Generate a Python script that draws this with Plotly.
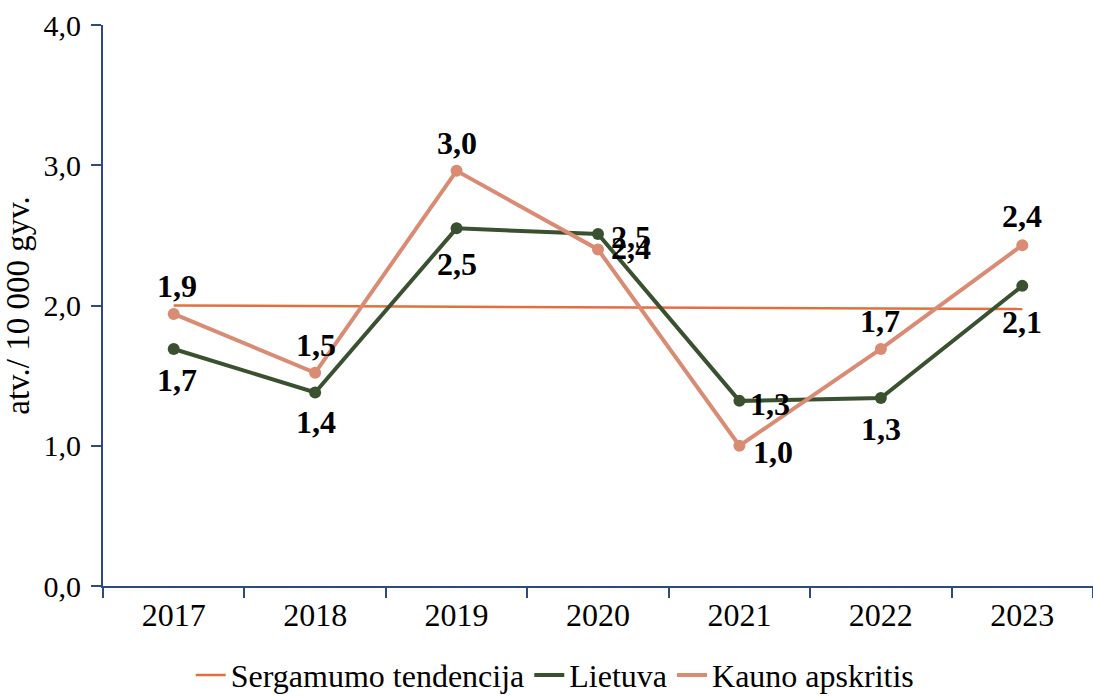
import plotly.graph_objects as go

years = ["2017", "2018", "2019", "2020", "2021", "2022", "2023"]
lietuva = [1.69, 1.38, 2.55, 2.51, 1.32, 1.34, 2.14]
kauno = [1.94, 1.52, 2.96, 2.40, 1.00, 1.69, 2.43]
trend = [2.00, 1.996, 1.992, 1.988, 1.983, 1.979, 1.975]
y_ticks = [0, 1, 2, 3, 4]
y_tick_labels = ["0,0", "1,0", "2,0", "3,0", "4,0"]

def fmt(v):
    return f"{v:.1f}".replace(".", ",")

# label placement (style): (xanchor, xshift, yshift) per point
lt_place = [("center", 3, -31), ("center", 1, -30), ("center", 0, -36), ("left", 11, -3),
            ("left", 9, -3), ("center", 0, -31), ("center", 0, -36)]
ka_place = [("center", 3, 28), ("center", 1, 28), ("center", 0, 28), ("left", 11, 1),
            ("left", 12, -6), ("center", -1, 28), ("center", 0, 29)]

FONT = "Liberation Serif"
AX = "#2E4A7E"
C_TR = "#E2703F"
C_LT = "#3A5130"
C_KA = "#D98B74"

fig = go.Figure()
fig.add_trace(go.Scatter(x=years, y=trend, mode="lines", showlegend=False,
                         line=dict(color=C_TR, width=2.5), hoverinfo="skip"))
fig.add_trace(go.Scatter(x=years, y=lietuva, mode="lines+markers", showlegend=False,
                         line=dict(color=C_LT, width=4), marker=dict(size=12, color=C_LT),
                         cliponaxis=False))
fig.add_trace(go.Scatter(x=years, y=kauno, mode="lines+markers", showlegend=False,
                         line=dict(color=C_KA, width=4), marker=dict(size=12, color=C_KA),
                         cliponaxis=False))
# legend entries (lines only)
fig.add_trace(go.Scatter(x=[None], y=[None], mode="lines", name="Sergamumo tendencija",
                         line=dict(color=C_TR, width=2.5)))
fig.add_trace(go.Scatter(x=[None], y=[None], mode="lines", name="Lietuva",
                         line=dict(color=C_LT, width=4)))
fig.add_trace(go.Scatter(x=[None], y=[None], mode="lines", name="Kauno apskritis",
                         line=dict(color=C_KA, width=4)))

annotations = []
for vals, place in ((lietuva, lt_place), (kauno, ka_place)):
    for i, (v, (xa, dx, dy)) in enumerate(zip(vals, place)):
        annotations.append(dict(x=i, y=v, xref="x", yref="y", text="<b>" + fmt(v) + "</b>",
                                showarrow=False,
                                xanchor=xa, yanchor="middle", xshift=dx, yshift=dy,
                                font=dict(family=FONT, size=32, color="black")))

fig.update_layout(
    width=1093, height=696,
    margin=dict(l=103, r=0, t=25, b=110),
    paper_bgcolor="white", plot_bgcolor="white",
    font=dict(family=FONT, size=30, color="black"),
    showlegend=True,
    annotations=annotations,
    legend=dict(orientation="h", xref="container", yref="container",
                x=0.508, xanchor="center", y=0.03, yanchor="middle",
                font=dict(family=FONT, size=32, color="black"),
                itemwidth=30, tracegroupgap=0),
    xaxis=dict(type="category", range=[-0.5, 6.5], showline=True, linecolor=AX, linewidth=2,
               ticks="outside", tickson="boundaries", ticklen=10, tickcolor=AX, tickwidth=1.5,
               showgrid=False, zeroline=False, automargin=False,
               tickfont=dict(family=FONT, size=32, color="black")),
    yaxis=dict(range=[0, 4], tickvals=y_ticks, ticktext=y_tick_labels,
               showline=True, linecolor=AX, linewidth=2,
               ticks="outside", ticklen=10, tickcolor=AX, tickwidth=1.5,
               showgrid=False, zeroline=False, automargin=False, ticklabelstandoff=4,
               tickfont=dict(family=FONT, size=30, color="black"),
               title=dict(text="atv./ 10 000 gyv.", font=dict(family=FONT, size=33, color="black"),
                          standoff=10)),
)

fig.write_html("out.html", config={"displayModeBar": False},
               post_script="document.body.style.margin='0';")
